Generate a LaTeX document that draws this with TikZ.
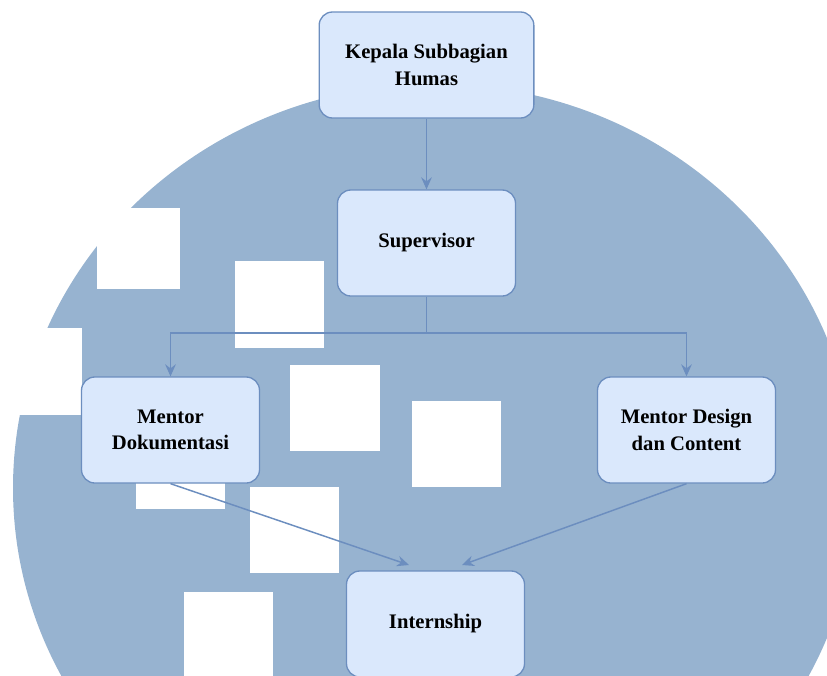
\documentclass[tikz,border=0pt]{standalone}
\usepackage{fontspec}
\setmainfont{Liberation Serif}
\usetikzlibrary{arrows.meta}
\definecolor{discblue}{RGB}{151,179,208}
\definecolor{boxfill}{RGB}{218,232,252}
\definecolor{boxline}{RGB}{108,142,191}
\begin{document}
\begin{tikzpicture}[x=0.75pt,y=-0.75pt]

      \tikzset{unit/.style={draw=boxline, line width=1pt, fill=boxfill, rounded corners=10pt, align=center, minimum width=133.5pt, minimum height=79.5pt, inner sep=2pt, font=\fontsize{15.5}{20}\selectfont\bfseries},
               link/.style={draw=boxline, line width=1.1pt, -{Stealth[length=9pt, width=8pt, inset=3pt]}},
               blank/.style={fill=white}}
      \useasboundingbox (0,0) rectangle (827,675);
      \clip (0,0) rectangle (827,675);
% Background
      	\fill[discblue] (435,488) ellipse[x radius=316.5pt, y radius=303pt];
      	\fill[blank] (0,328) rectangle (82,415);
      	\fill[blank] (97,208) rectangle (180,289);
      	\fill[blank] (235,261) rectangle (324,348);
      	\fill[blank] (290,365) rectangle (380,451);
      	\fill[blank] (412,401) rectangle (501,487);
      	\fill[blank] (136,420) rectangle (225,509);
      	\fill[blank] (250,487) rectangle (339,573);
      	\fill[blank] (184,592) rectangle (273,681);
% Vertices
      	\node[unit, minimum width=161pt] (kepala) at (426.5,65) {Kepala Subbagian\\Humas};
      	\node[unit] (supervisor) at (426.5,243) {Supervisor};
    	\node[unit] (mdok) at (170.5,430) {Mentor\\Dokumentasi};
  	    \node[unit] (mdes) at (686.5,430) {Mentor Design\\dan Content};
  	    \node[unit] (intern) at (435.5,624) {Internship};
  	    \coordinate (split) at (426.5,333);
  	    \coordinate (inleft) at (409,565);
  	    \coordinate (inright) at (462,565);
%Edges
		\draw[link] (kepala) -- (supervisor);
		\draw[draw=boxline, line width=1.1pt] (supervisor) -- (split);
		\draw[link] (split) -| (mdok);
		\draw[link] (split) -| (mdes);
		\draw[link] (mdok.south) -- (inleft);
		\draw[link] (mdes.south) -- (inright);

	\end{tikzpicture}
\end{document}
